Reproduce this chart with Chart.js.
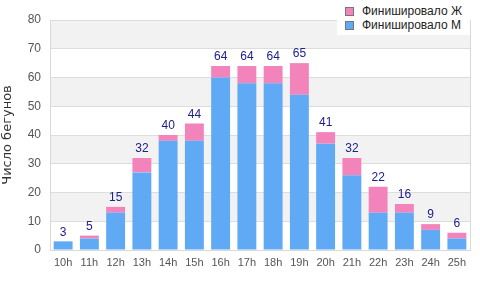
<!DOCTYPE html>
<html>
<head>
<meta charset="utf-8">
<script src="https://cdn.jsdelivr.net/npm/chart.js@4/dist/chart.umd.min.js"></script>
<style>
    html, body { margin: 0; padding: 0; background: #fff; }
    #wrap { position: relative; width: 480px; height: 300px; }
    #legend {
        position: absolute; left: 337px; top: 0; width: 133px; height: 35px;
        background: #fff; font: 12px "Liberation Sans", Arial, sans-serif; color: #222;
    }
    #legend div { position: absolute; left: 25px; white-space: nowrap; line-height: 14px; }
    #legend span {
        position: absolute; left: -17px; top: 3px; width: 7px; height: 7px;
        border: 1px solid #777;
    }
</style>
</head>
<body>
<div id="wrap">
    <canvas id="barChart" width="480" height="300"></canvas>
    <div id="legend">
        <div style="top:4px"><span style="background:#f383bb"></span>Финишировало Ж</div>
        <div style="top:18px"><span style="background:#60a9f5"></span>Финишировало М</div>
    </div>
</div>
<script>
const hours = ['10h', '11h', '12h', '13h', '14h', '15h', '16h', '17h', '18h', '19h', '20h', '21h', '22h', '23h', '24h', '25h'];
const finishedM = [3, 4, 13, 27, 38, 38, 60, 58, 58, 54, 37, 26, 13, 13, 7, 4];
const finishedF = [0, 1, 2, 5, 2, 6, 4, 6, 6, 11, 4, 6, 9, 3, 2, 2];
const yTicks = [0, 10, 20, 30, 40, 50, 60, 70, 80];

const bc = document.getElementById('barChart');

// alternating grey bands behind the grid + right border
const bands = {
    id: 'bands',
    beforeDraw(chart) {
        const { ctx, chartArea: a, scales: { y } } = chart;
        ctx.save();
        ctx.fillStyle = '#f2f2f2';
        for (let i = 1; i < yTicks.length - 1; i += 2) {
            const top = y.getPixelForValue(yTicks[i + 1]);
            const bot = y.getPixelForValue(yTicks[i]);
            ctx.fillRect(a.left, top, a.right - a.left, bot - top);
        }
        ctx.restore();
    },
    afterDraw(chart) {
        const { ctx, chartArea: a } = chart;
        ctx.save();
        ctx.strokeStyle = '#d9d9d9';
        ctx.lineWidth = 1;
        ctx.beginPath();
        ctx.moveTo(a.right + 0.5, a.top);
        ctx.lineTo(a.right + 0.5, a.bottom);
        ctx.stroke();
        ctx.restore();
    },
};

// totals above each stack
const totals = {
    id: 'totals',
    afterDatasetsDraw(chart) {
        const { ctx, scales: { y } } = chart;
        const meta = chart.getDatasetMeta(0);
        ctx.save();
        ctx.font = '12px "Liberation Sans", Arial, sans-serif';
        ctx.fillStyle = '#20208a';
        ctx.textAlign = 'center';
        ctx.textBaseline = 'bottom';
        hours.forEach((h, i) => {
            const t = finishedM[i] + finishedF[i];
            ctx.fillText(String(t), meta.data[i].x, y.getPixelForValue(t) - 3);
        });
        ctx.restore();
    },
};

new Chart(bc, {
    type: 'bar',
    data: {
        labels: hours,
        datasets: [
            {
                label: 'Финишировало М',
                data: finishedM,
                backgroundColor: '#60a9f5',
            },
            {
                label: 'Финишировало Ж',
                data: finishedF,
                backgroundColor: '#f383bb',
            },
        ],
    },
    options: {
        responsive: false,
        animation: false,
        layout: { padding: { top: 20, right: 10, left: 0, bottom: 0 } },
        datasets: { bar: { categoryPercentage: 1, barPercentage: 0.72 } },
        plugins: {
            legend: { display: false },
            tooltip: { enabled: false },
        },
        scales: {
            x: {
                stacked: true,
                grid: { display: false, drawTicks: false },
                border: { color: '#d9d9d9' },
                ticks: {
                    color: '#555',
                    padding: 6,
                    maxRotation: 0,
                    autoSkip: false,
                    font: { family: 'Liberation Sans', size: 11 },
                },
                afterFit(s) { s.height = 50; },
            },
            y: {
                stacked: true,
                min: 0,
                max: 80,
                grid: { color: '#dddddd', drawTicks: false },
                border: { color: '#d9d9d9' },
                ticks: {
                    stepSize: 10,
                    color: '#555',
                    padding: 9,
                    font: { family: 'Liberation Sans', size: 12 },
                },
                title: {
                    display: true,
                    text: 'Число бегунов',
                    color: '#333',
                    padding: { top: 0, bottom: 0 },
                    font: { family: 'DejaVu Sans', size: 13 },
                },
                afterFit(s) { s.width = 50; },
            },
        },
    },
    plugins: [bands, totals],
});
</script>
</body>
</html>
